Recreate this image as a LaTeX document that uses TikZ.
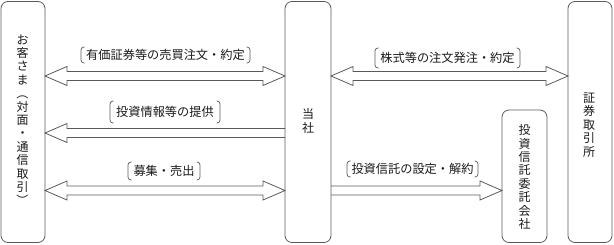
\documentclass[tikz,border=0pt]{standalone}
\usepackage{fontspec}
\setmainfont{Noto Sans CJK JP}
\usetikzlibrary{calc}
\definecolor{linecol}{HTML}{5A5A5A}
\definecolor{txtcol}{HTML}{1A1A1A}
\tikzset{
  box/.style={draw=linecol, line width=0.8pt, rounded corners=7pt, inner sep=0pt, outer sep=0pt},
  vtxt/.style={text=txtcol, align=center, inner sep=0pt, font=\fontsize{12}{13.4}\selectfont},
  lbl/.style={text=txtcol, inner sep=0pt, outer sep=0pt, font=\fontsize{12.2}{13}\selectfont},
  arr/.style={draw=linecol, line width=0.8pt, line join=miter},
  brk/.style={draw=linecol, line width=0.7pt, rounded corners=3pt},
}
\newcommand\vparen[1]{\rotatebox[origin=c]{-90}{#1}}
\newcommand\dblarrow[2]{%
  \draw[arr] let \p1=(#1), \p2=(#2) in
    (\x1,\y1) -- (\x1+22pt,\y1+9.5pt) -- (\x1+22pt,\y1+4.5pt) -- (\x2-22pt,\y2+4.5pt)
    -- (\x2-22pt,\y2+9.5pt) -- (\x2,\y2) -- (\x2-22pt,\y2-9.5pt) -- (\x2-22pt,\y2-4.5pt)
    -- (\x1+22pt,\y1-4.5pt) -- (\x1+22pt,\y1-9.5pt) -- cycle;}
% #1 tail, #2 head, #3 = head length with sign (22pt rightward, -22pt leftward)
\newcommand\onearrow[3]{%
  \draw[arr] let \p1=(#1), \p2=(#2), \n1={#3} in
    (\x1,\y1+4.5pt) -- (\x2-\n1,\y2+4.5pt) -- (\x2-\n1,\y2+9.5pt) -- (\x2,\y2)
    -- (\x2-\n1,\y2-9.5pt) -- (\x2-\n1,\y2-4.5pt) -- (\x1,\y1-4.5pt);}
\newcommand\brackets[1]{%
  \draw[brk] ([xshift=3.5pt]#1.north west) -- (#1.north west) -- (#1.south west) -- ([xshift=3.5pt]#1.south west);
  \draw[brk] ([xshift=-3.5pt]#1.north east) -- (#1.north east) -- (#1.south east) -- ([xshift=-3.5pt]#1.south east);}
\begin{document}
\begin{tikzpicture}[x=1pt,y=-1pt]
\useasboundingbox (0,0) rectangle (614,244);
% boxes
\node[box, minimum width=44pt, minimum height=241pt] (cust) at (23,122) {};
\node[box, minimum width=46pt, minimum height=241pt] (ours) at (308,122) {};
\node[box, minimum width=44pt, minimum height=241pt] (tse) at (590,122) {};
\node[box, minimum width=45pt, minimum height=132.5pt] (itm) at (524.5,176.25) {};
% vertical texts
\node[vtxt] (custtxt) at (22.5,120.5) {お\\客\\さ\\ま\\\vparen{（}\\対\\面\\・\\通\\信\\取\\引\\\vparen{）}};
\node[vtxt] (ourstxt) at (308,121) {当\\社};
\node[vtxt] (tsetxt) at (589,125) {証\\券\\取\\引\\所};
\node[vtxt] (itmtxt) at (524.5,177) {投\\資\\信\\託\\委\\託\\会\\社};
% levels
\coordinate (lvA) at (0,76);
\coordinate (lvB) at (0,133);
\coordinate (lvC) at (0,190.5);
% arrows
\dblarrow{cust.east |- lvA}{ours.west |- lvA}
\onearrow{ours.west |- lvB}{cust.east |- lvB}{-22pt}
\dblarrow{cust.east |- lvC}{ours.west |- lvC}
\dblarrow{ours.east |- lvA}{tse.west |- lvA}
\onearrow{ours.east |- lvC}{itm.west |- lvC}{22pt}
% labels
\node[lbl, minimum width=169pt, minimum height=16pt] (l1) at (165.5,55) {有価証券等の売買注文・約定};
\node[lbl, minimum width=110pt, minimum height=22pt] (l2) at (165,112) {投資情報等の提供};
\node[lbl, minimum width=72pt, minimum height=18pt] (l3) at (164,171) {募集・売出};
\node[lbl, minimum width=145pt, minimum height=20pt] (l4) at (447.5,58) {株式等の注文発注・約定};
\node[lbl, minimum width=131pt, minimum height=16pt] (l5) at (412.5,169) {投資信託の設定・解約};
\brackets{l1}
\brackets{l2}
\brackets{l3}
\brackets{l4}
\brackets{l5}
\end{tikzpicture}
\end{document}
